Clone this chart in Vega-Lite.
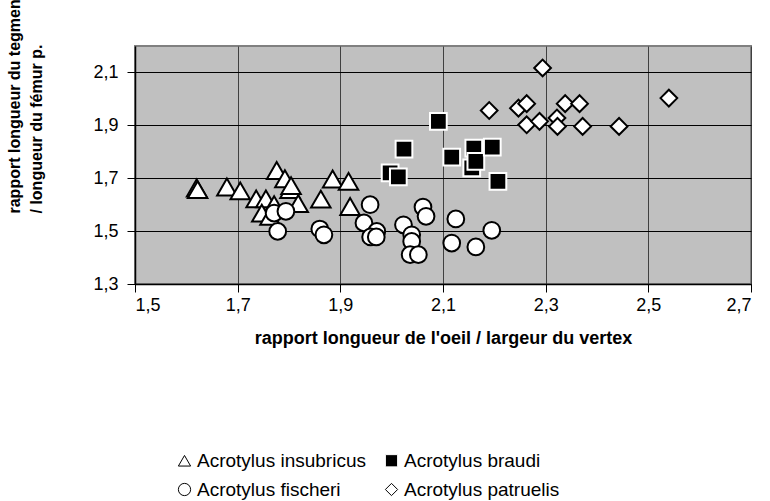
{
  "$schema": "https://vega.github.io/schema/vega-lite/v6.json",
  "width": 616,
  "height": 238,
  "autosize": {"type": "none"},
  "padding": {"left": 135, "top": 46, "right": 19, "bottom": 217},
  "background": "white",
  "config": {
    "font": "Liberation Sans",
    "view": {"fill": "#c0c0c0", "stroke": "#808080", "strokeWidth": 2},
    "axis": {"labelColor": "black", "titleColor": "black", "domainColor": "black", "tickColor": "black", "labelFont": "Liberation Sans", "titleFont": "Liberation Sans"},
    "legend": {"labelFont": "Liberation Sans"}
  },
  "data": {"values": [
    {"species": "Acrotylus insubricus", "x": 1.620, "y": 1.663},
    {"species": "Acrotylus insubricus", "x": 1.622, "y": 1.657},
    {"species": "Acrotylus insubricus", "x": 1.679, "y": 1.667},
    {"species": "Acrotylus insubricus", "x": 1.705, "y": 1.652},
    {"species": "Acrotylus insubricus", "x": 1.736, "y": 1.622},
    {"species": "Acrotylus insubricus", "x": 1.755, "y": 1.622},
    {"species": "Acrotylus insubricus", "x": 1.771, "y": 1.600},
    {"species": "Acrotylus insubricus", "x": 1.747, "y": 1.568},
    {"species": "Acrotylus insubricus", "x": 1.763, "y": 1.556},
    {"species": "Acrotylus insubricus", "x": 1.776, "y": 1.729},
    {"species": "Acrotylus insubricus", "x": 1.792, "y": 1.698},
    {"species": "Acrotylus insubricus", "x": 1.802, "y": 1.657},
    {"species": "Acrotylus insubricus", "x": 1.804, "y": 1.672},
    {"species": "Acrotylus insubricus", "x": 1.818, "y": 1.604},
    {"species": "Acrotylus insubricus", "x": 1.862, "y": 1.621},
    {"species": "Acrotylus insubricus", "x": 1.885, "y": 1.697},
    {"species": "Acrotylus insubricus", "x": 1.916, "y": 1.688},
    {"species": "Acrotylus insubricus", "x": 1.919, "y": 1.593},
    {"species": "Acrotylus braudi", "x": 2.091, "y": 1.915},
    {"species": "Acrotylus braudi", "x": 2.024, "y": 1.810},
    {"species": "Acrotylus braudi", "x": 1.997, "y": 1.720},
    {"species": "Acrotylus braudi", "x": 2.013, "y": 1.705},
    {"species": "Acrotylus braudi", "x": 2.117, "y": 1.780},
    {"species": "Acrotylus braudi", "x": 2.160, "y": 1.814},
    {"species": "Acrotylus braudi", "x": 2.156, "y": 1.739},
    {"species": "Acrotylus braudi", "x": 2.164, "y": 1.764},
    {"species": "Acrotylus braudi", "x": 2.196, "y": 1.818},
    {"species": "Acrotylus braudi", "x": 2.207, "y": 1.688},
    {"species": "Acrotylus fischeri", "x": 1.771, "y": 1.568},
    {"species": "Acrotylus fischeri", "x": 1.794, "y": 1.575},
    {"species": "Acrotylus fischeri", "x": 1.778, "y": 1.499},
    {"species": "Acrotylus fischeri", "x": 1.860, "y": 1.508},
    {"species": "Acrotylus fischeri", "x": 1.868, "y": 1.486},
    {"species": "Acrotylus fischeri", "x": 1.958, "y": 1.600},
    {"species": "Acrotylus fischeri", "x": 1.946, "y": 1.531},
    {"species": "Acrotylus fischeri", "x": 1.971, "y": 1.499},
    {"species": "Acrotylus fischeri", "x": 1.959, "y": 1.478},
    {"species": "Acrotylus fischeri", "x": 1.970, "y": 1.478},
    {"species": "Acrotylus fischeri", "x": 2.023, "y": 1.524},
    {"species": "Acrotylus fischeri", "x": 2.039, "y": 1.486},
    {"species": "Acrotylus fischeri", "x": 2.039, "y": 1.461},
    {"species": "Acrotylus fischeri", "x": 2.036, "y": 1.411},
    {"species": "Acrotylus fischeri", "x": 2.052, "y": 1.411},
    {"species": "Acrotylus fischeri", "x": 2.061, "y": 1.591},
    {"species": "Acrotylus fischeri", "x": 2.067, "y": 1.556},
    {"species": "Acrotylus fischeri", "x": 2.125, "y": 1.546},
    {"species": "Acrotylus fischeri", "x": 2.117, "y": 1.455},
    {"species": "Acrotylus fischeri", "x": 2.164, "y": 1.440},
    {"species": "Acrotylus fischeri", "x": 2.195, "y": 1.503},
    {"species": "Acrotylus patruelis", "x": 2.190, "y": 1.956},
    {"species": "Acrotylus patruelis", "x": 2.294, "y": 2.117},
    {"species": "Acrotylus patruelis", "x": 2.247, "y": 1.965},
    {"species": "Acrotylus patruelis", "x": 2.263, "y": 1.982},
    {"species": "Acrotylus patruelis", "x": 2.263, "y": 1.902},
    {"species": "Acrotylus patruelis", "x": 2.288, "y": 1.915},
    {"species": "Acrotylus patruelis", "x": 2.322, "y": 1.928},
    {"species": "Acrotylus patruelis", "x": 2.323, "y": 1.896},
    {"species": "Acrotylus patruelis", "x": 2.338, "y": 1.982},
    {"species": "Acrotylus patruelis", "x": 2.366, "y": 1.982},
    {"species": "Acrotylus patruelis", "x": 2.372, "y": 1.896},
    {"species": "Acrotylus patruelis", "x": 2.443, "y": 1.896},
    {"species": "Acrotylus patruelis", "x": 2.540, "y": 2.003}
  ]},
  "mark": {"type": "point", "filled": true, "strokeWidth": 2, "opacity": 1},
  "encoding": {
    "x": {
      "field": "x", "type": "quantitative",
      "scale": {"domain": [1.5, 2.7], "nice": false, "zero": false},
      "axis": {
        "values": [1.5, 1.7, 1.9, 2.1, 2.3, 2.5, 2.7],
        "labelExpr": "replace(format(datum.value, '.1f'), '.', ',')",
        "labelFontSize": 18, "labelPadding": 4, "tickSize": 8, "tickWidth": 1,
        "domainWidth": 1.5,
        "grid": true, "gridColor": "#404040", "gridWidth": 1, "gridOpacity": 1,
        "title": "rapport longueur de l'oeil / largeur du vertex",
        "titleFontSize": 18, "titleFontWeight": "bold", "titlePadding": 15
      }
    },
    "y": {
      "field": "y", "type": "quantitative",
      "scale": {"domain": [1.3, 2.2], "nice": false, "zero": false},
      "axis": {
        "values": [1.3, 1.5, 1.7, 1.9, 2.1],
        "labelExpr": "replace(format(datum.value, '.1f'), '.', ',')",
        "labelFontSize": 18, "labelPadding": 9, "tickSize": 8, "tickWidth": 1,
        "domainWidth": 1.5,
        "grid": true, "gridColor": "black", "gridWidth": 1, "gridOpacity": 1,
        "title": ["rapport longueur du tegmen", "/ longueur du fémur p."],
        "titleFontSize": 16, "titleFontWeight": "bold",
        "titleAngle": 270, "titleAlign": "left", "titleBaseline": "top",
        "titleX": -129, "titleY": 167, "titleLineHeight": 22
      }
    },
    "shape": {
      "field": "species", "type": "nominal",
      "scale": {"domain": ["Acrotylus insubricus", "Acrotylus braudi", "Acrotylus fischeri", "Acrotylus patruelis"], "range": ["triangle-up", "square", "circle", "diamond"]},
      "legend": {
        "title": null, "orient": "none", "legendX": 40, "legendY": 405,
        "columns": 2, "direction": "horizontal",
        "labelFontSize": 19, "labelColor": "black", "labelFont": "Liberation Sans",
        "labelLimit": 400,
        "symbolSize": 150, "symbolStrokeWidth": 1, "labelOffset": 3,
        "columnPadding": 16, "rowPadding": 9
      }
    },
    "fill": {
      "field": "species", "type": "nominal",
      "scale": {"domain": ["Acrotylus insubricus", "Acrotylus braudi", "Acrotylus fischeri", "Acrotylus patruelis"], "range": ["white", "black", "white", "white"]}
    },
    "stroke": {
      "field": "species", "type": "nominal",
      "scale": {"domain": ["Acrotylus insubricus", "Acrotylus braudi", "Acrotylus fischeri", "Acrotylus patruelis"], "range": ["black", "white", "black", "black"]}
    },
    "size": {
      "condition": {"test": "datum.species === 'Acrotylus insubricus'", "value": 380},
      "value": 280
    }
  }
}
